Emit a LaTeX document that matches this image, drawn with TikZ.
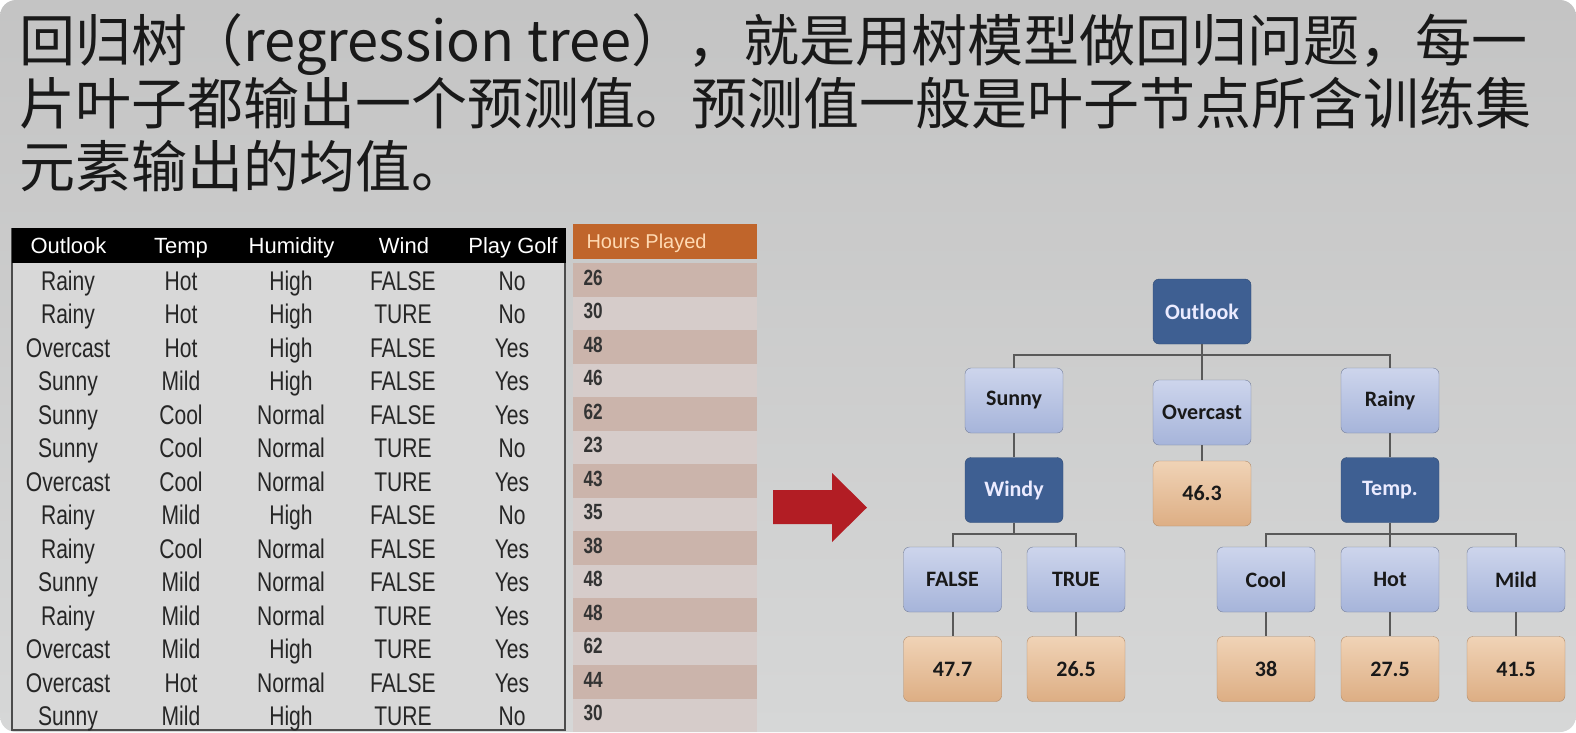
\documentclass[tikz,border=0pt]{standalone}
\usepackage{fontspec}
\setmainfont{Liberation Sans}
\newfontfamily\cjk{Noto Sans CJK SC}
\newfontfamily\tabfont[FakeStretch=0.78]{Liberation Sans}
\newfontfamily\treefont{Carlito}
\usetikzlibrary{positioning}

\definecolor{bgtop}{HTML}{C4C4C4}
\definecolor{bgbot}{HTML}{D6D7D7}
\definecolor{tablebg}{HTML}{D8D8D8}
\definecolor{hoursorange}{HTML}{C0652B}
\definecolor{stripedark}{HTML}{CBB4AB}
\definecolor{stripelight}{HTML}{D6CCCA}
\definecolor{darkblue}{HTML}{3E5F92}
\definecolor{lightbluetop}{HTML}{CDD5EC}
\definecolor{lightbluebot}{HTML}{A6B4DA}
\definecolor{orangetop}{HTML}{F0D3B6}
\definecolor{orangebot}{HTML}{DDAE84}
\definecolor{arrowred}{HTML}{B21D24}

\begin{document}
\begin{tikzpicture}[
    x=1pt, y=-1pt,
    line/.style={anchor=base west, text=black!90, font=\cjk\fontsize{56}{56}\selectfont},
    colhead/.style={anchor=base, text=white, font=\fontsize{22}{22}\selectfont},
    cell/.style={anchor=base, text=black!85, font=\tabfont\fontsize{27}{27}\selectfont},
    hours/.style={anchor=base west, text=black!80, font=\tabfont\fontsize{22}{22}\selectfont\bfseries},
    box/.style={rectangle, rounded corners=6pt, minimum width=98pt, minimum height=65pt, font=\treefont\bfseries\fontsize{22}{22}\selectfont},
    decision/.style={box, draw=darkblue!80!black, fill=darkblue, text=blue!8},
    branch/.style={box, draw=lightbluebot!70!black, top color=lightbluetop, bottom color=lightbluebot, text=black!90},
    leaf/.style={box, draw=orangebot!80!black, top color=orangetop, bottom color=orangebot, text=black!90},
    link/.style={draw=black!65, line width=2pt}
]

% Page and background
\useasboundingbox (0,0) rectangle (1576,732);
\fill[white] (0,0) rectangle (1576,732);
\shade[rounded corners=16pt, top color=bgtop, bottom color=bgbot] (0,0) rectangle (1576,732);

% Heading text
\node[line] (line1) at (16,61) {回归树（regression tree），就是用树模型做回归问题，每一};
\node[line] (line2) at (16,124) {片叶子都输出一个预测值。预测值一般是叶子节点所含训练集};
\node[line] (line3) at (16,187) {元素输出的均值。};

% Data table
\fill[tablebg] (12,229) rectangle (565,730);
\draw[black!70, line width=2.5pt] (12,229) rectangle (565,730);
\fill[black] (12,228) rectangle (566,263);
\node[colhead] (h_outlook) at (68.5,253.5) {Outlook};
\node[colhead] (h_temp) at (181,253.5) {Temp};
\node[colhead] (h_humidity) at (291.5,253.5) {Humidity};
\node[colhead] (h_wind) at (404,253.5) {Wind};
\node[colhead] (h_golf) at (513,253.5) {Play Golf};

% Hours played column
\fill[hoursorange] (573,224) rectangle (757,259);
\node[anchor=base west, text=orange!30!white, font=\fontsize{20}{20}\selectfont] (h_hours) at (583,248) {Hours Played};
\foreach \i in {1,3,...,13}
    \fill[stripedark] (573,{263+(\i-1)*33.5}) rectangle (757,{263+\i*33.5});
\foreach \i in {2,4,...,14}
    \fill[stripelight] (573,{263+(\i-1)*33.5}) rectangle (757,{263+\i*33.5});

% Rows
\foreach \o/\t/\h/\w/\g/\hp [count=\i] in {
    Rainy/Hot/High/FALSE/No/26, Rainy/Hot/High/TURE/No/30,
    Overcast/Hot/High/FALSE/Yes/48, Sunny/Mild/High/FALSE/Yes/46,
    Sunny/Cool/Normal/FALSE/Yes/62, Sunny/Cool/Normal/TURE/No/23,
    Overcast/Cool/Normal/TURE/Yes/43, Rainy/Mild/High/FALSE/No/35,
    Rainy/Cool/Normal/FALSE/Yes/38, Sunny/Mild/Normal/FALSE/Yes/48,
    Rainy/Mild/Normal/TURE/Yes/48, Overcast/Mild/High/TURE/Yes/62,
    Overcast/Hot/Normal/FALSE/Yes/44, Sunny/Mild/High/TURE/No/30}
{
    \node[cell] (o\i) at (68,{290+(\i-1)*33.5}) {\o};
    \node[cell] (t\i) at (181,{290+(\i-1)*33.5}) {\t};
    \node[cell] (h\i) at (291,{290+(\i-1)*33.5}) {\h};
    \node[cell] (w\i) at (403,{290+(\i-1)*33.5}) {\w};
    \node[cell] (g\i) at (512,{290+(\i-1)*33.5}) {\g};
    \node[hours] (hp\i) at (580,{285+(\i-1)*33.5}) {\hp};
}

% Arrow to the tree
\fill[arrowred] (773,490) -- (832,490) -- (832,473) -- (867,507.5)
    -- (832,542) -- (832,524) -- (773,524) -- cycle;

% Tree
\node[decision] (outlook) at (1202,311.5) {Outlook};
\node[branch] (sunny) at (1014,400.5) {Sunny};
\node[branch] (overcast) at (1202,412.5) {Overcast};
\node[branch] (rainy) at (1390,400.5) {Rainy};
\node[decision] (windy) at (1014,490) {Windy};
\node[leaf] (v463) at (1202,493.5) {46.3};
\node[decision] (temp) at (1390,490) {Temp.};
\node[branch] (false) at (952.5,579.5) {FALSE};
\node[branch] (true) at (1076,579.5) {TRUE};
\node[branch] (cool) at (1266,579.5) {Cool};
\node[branch] (hot) at (1390,579.5) {Hot};
\node[branch] (mild) at (1516,579.5) {Mild};
\node[leaf] (v477) at (952.5,669) {47.7};
\node[leaf] (v265) at (1076,669) {26.5};
\node[leaf] (v38) at (1266,669) {38};
\node[leaf] (v275) at (1390,669) {27.5};
\node[leaf] (v415) at (1516,669) {41.5};

% Connectors
\draw[link] (outlook.south) -- (overcast.north);
\draw[link] (sunny.north) -- ++(0,-13) -| (rainy.north);
\draw[link] (sunny.south) -- (windy.north);
\draw[link] (overcast.south) -- (v463.north);
\draw[link] (rainy.south) -- (temp.north);
\draw[link] (windy.south) -- ++(0,11) -| (false.north);
\draw[link] (windy.south) ++(0,11) -| (true.north);
\draw[link] (temp.south) -- (hot.north);
\draw[link] (temp.south) ++(0,11) -| (cool.north);
\draw[link] (temp.south) ++(0,11) -| (mild.north);
\foreach \a/\b in {false/v477, true/v265, cool/v38, hot/v275, mild/v415}
    \draw[link] (\a.south) -- (\b.north);

\end{tikzpicture}
\end{document}
